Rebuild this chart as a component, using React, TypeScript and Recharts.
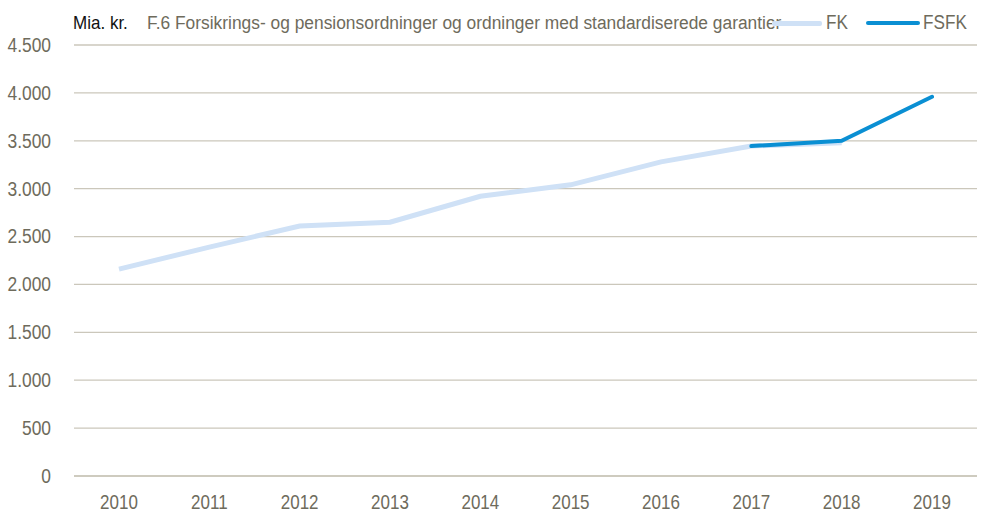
import { LineChart, Line, XAxis, YAxis, CartesianGrid } from "recharts";

const years = ["2010", "2011", "2012", "2013", "2014", "2015", "2016", "2017", "2018", "2019"];
const fk = [2160, 2390, 2610, 2650, 2920, 3040, 3280, 3445, 3480, null];
const fsfk = [null, null, null, null, null, null, null, 3445, 3500, 3960];
const yTicks = [0, 500, 1000, 1500, 2000, 2500, 3000, 3500, 4000, 4500];

const data = years.map((year, i) => ({ year, FK: fk[i], FSFK: fsfk[i] }));

const font = "'Liberation Sans', Arial, sans-serif";
const textColor = "#6e6b5c";
const gridColor = "#cbc7bb";
const fkColor = "#cfe1f6";
const fsfkColor = "#0a8fd3";

const formatDa = (v: number) => v.toLocaleString("da-DK");

// narrow font is not available, so squeeze the regular one a bit
function XTick({ x, y, payload }: any) {
    return (
        <text
            transform={`translate(${x},${y + 24}) scale(0.85,1)`}
            textAnchor="middle"
            dominantBaseline="central"
            fill={textColor}
            fontFamily={font}
            fontSize={20}
        >
            {payload.value}
        </text>
    );
}

function YTick({ x, y, payload }: any) {
    return (
        <text
            transform={`translate(${x - 21},${y}) scale(0.87,1)`}
            textAnchor="end"
            dominantBaseline="central"
            fill={textColor}
            fontFamily={font}
            fontSize={20}
        >
            {formatDa(payload.value)}
        </text>
    );
}

const squeeze = (left: number, top: number, scale: number) => ({
    position: "absolute" as const,
    left,
    top,
    fontFamily: font,
    whiteSpace: "nowrap" as const,
    transform: `scaleX(${scale})`,
    transformOrigin: "left center",
    lineHeight: 1,
});

function App() {
    return (
        <div style={{ position: "absolute", left: 0, top: 0, width: 984, height: 515, background: "#fff" }}>
            <LineChart width={984} height={515} data={data} margin={{ top: 45, right: 7, bottom: 0, left: 0 }}>
                <CartesianGrid vertical={false} stroke={gridColor} strokeWidth={1.3} />
                <XAxis
                    dataKey="year"
                    height={39}
                    padding={{ left: 45, right: 45 }}
                    axisLine={{ stroke: gridColor, strokeWidth: 1.3 }}
                    tickLine={false}
                    tickSize={0}
                    tick={<XTick />}
                />
                <YAxis
                    width={74}
                    domain={[0, 4500]}
                    ticks={yTicks}
                    axisLine={false}
                    tickLine={false}
                    tickSize={0}
                    tick={<YTick />}
                />
                <Line dataKey="FK" stroke={fkColor} strokeWidth={5} dot={false} isAnimationActive={false} />
                <Line dataKey="FSFK" stroke={fsfkColor} strokeWidth={4} strokeLinecap="round" dot={false} isAnimationActive={false} />
            </LineChart>
            <div style={{ ...squeeze(73, 14, 0.92), fontSize: 18.5, color: "#111" }}>Mia. kr.</div>
            <div style={{ ...squeeze(147, 14, 0.965), fontSize: 18, color: textColor }}>
                F.6 Forsikrings- og pensionsordninger og ordninger med standardiserede garantier
            </div>
            <div style={{ position: "absolute", left: 772, top: 21, width: 50, height: 5, background: fkColor, borderRadius: 2 }} />
            <div style={{ ...squeeze(826, 13, 0.88), fontSize: 19.5, color: textColor }}>FK</div>
            <div style={{ position: "absolute", left: 866, top: 21, width: 54, height: 4, background: fsfkColor, borderRadius: 2 }} />
            <div style={{ ...squeeze(923, 13, 0.88), fontSize: 19.5, color: textColor }}>FSFK</div>
        </div>
    );
}

export default App;
